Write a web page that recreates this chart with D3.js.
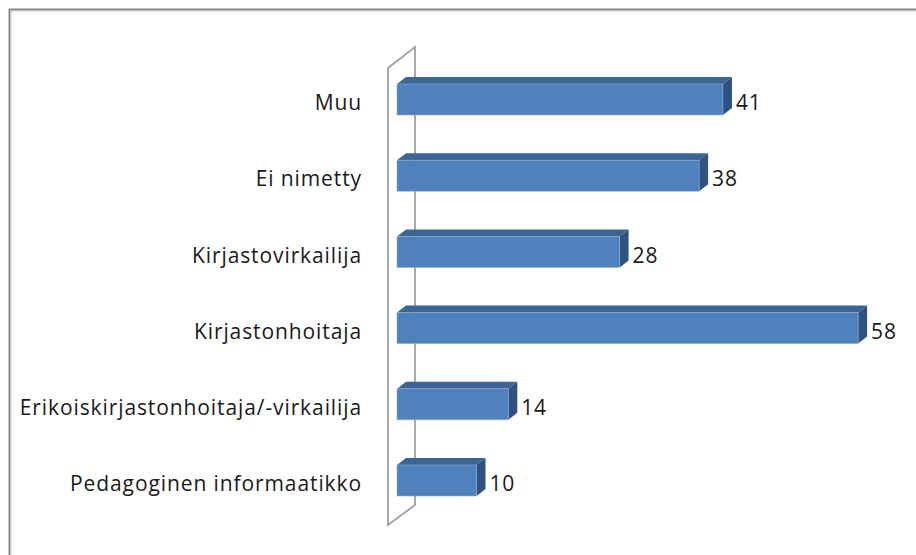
<!DOCTYPE html>
<html>
<head>
<meta charset="utf-8">
<script src="https://cdn.jsdelivr.net/npm/d3@7"></script>
<style>
  html, body { margin: 0; padding: 0; background: #fff; }
  svg { display: block; }
  text { font-family: "Open Sans", "Lato", sans-serif; fill: #1a1a1a; }
</style>
</head>
<body>
<svg id="chart" width="916" height="555"></svg>
<script>
const categories = ["Muu", "Ei nimetty", "Kirjastovirkailija", "Kirjastonhoitaja", "Erikoiskirjastonhoitaja/-virkailija", "Pedagoginen informaatikko"];
const values = [41, 38, 28, 58, 14, 10];
const axisDomain = [0, 60];

const svg = d3.select("#chart");

// outer frame
svg.append("rect").attr("x", 9.5).attr("y", 9.5).attr("width", 930).attr("height", 580)
  .attr("fill", "#fff").attr("stroke", "#858585").attr("stroke-width", 2);
svg.append("rect").attr("x", 11).attr("y", 11).attr("width", 930).attr("height", 580)
  .attr("fill", "none").attr("stroke", "#c8c8c8").attr("stroke-width", 1);

const x = d3.scaleLinear().domain(axisDomain).range([397, 874]);
const y = d3.scaleBand().domain(categories).range([61.4, 518.6]).paddingInner(0.593).paddingOuter(0.2965);

const dx = 9, dy = -7;

// side wall
const wall = svg.append("g");
wall.append("path")
  .attr("d", "M388,68 L415,47 L415,505 L388,525 Z")
  .attr("fill", "none").attr("stroke", "#a0a0a0").attr("stroke-width", 1.8);

const bars = svg.append("g").selectAll("g").data(categories).join("g");
bars.each(function(c, i) {
  const g = d3.select(this);
  const x0 = x(0), x1 = x(values[i]);
  const t = y(c), b = y(c) + y.bandwidth();
  g.append("path")
    .attr("d", `M${x0},${t} L${x0+dx},${t+dy} L${x1+dx},${t+dy} L${x1},${t} Z`)
    .attr("fill", "#3d6594");
  g.append("path")
    .attr("d", `M${x1},${t} L${x1+dx},${t+dy} L${x1+dx},${b+dy} L${x1},${b} Z`)
    .attr("fill", "#2f5281");
  g.append("rect").attr("x", x0).attr("y", t).attr("width", x1 - x0).attr("height", b - t)
    .attr("fill", "#4f81bd").attr("stroke", "#8eaedb").attr("stroke-width", 0.6);
  g.append("text")
    .attr("x", x1 + dx + 4).attr("y", (t + b) / 2 + 5)
    .attr("dominant-baseline", "middle")
    .attr("font-size", 21)
    .attr("letter-spacing", 0.8)
    .text(values[i]);
});

// category labels
svg.append("g").selectAll("text").data(categories).join("text")
  .attr("x", 362)
  .attr("y", c => y(c) + y.bandwidth() / 2 + 5)
  .attr("text-anchor", "end")
  .attr("dominant-baseline", "middle")
  .attr("font-size", 21)
  .attr("letter-spacing", 0.9)
  .text(c => c);
</script>
</body>
</html>
